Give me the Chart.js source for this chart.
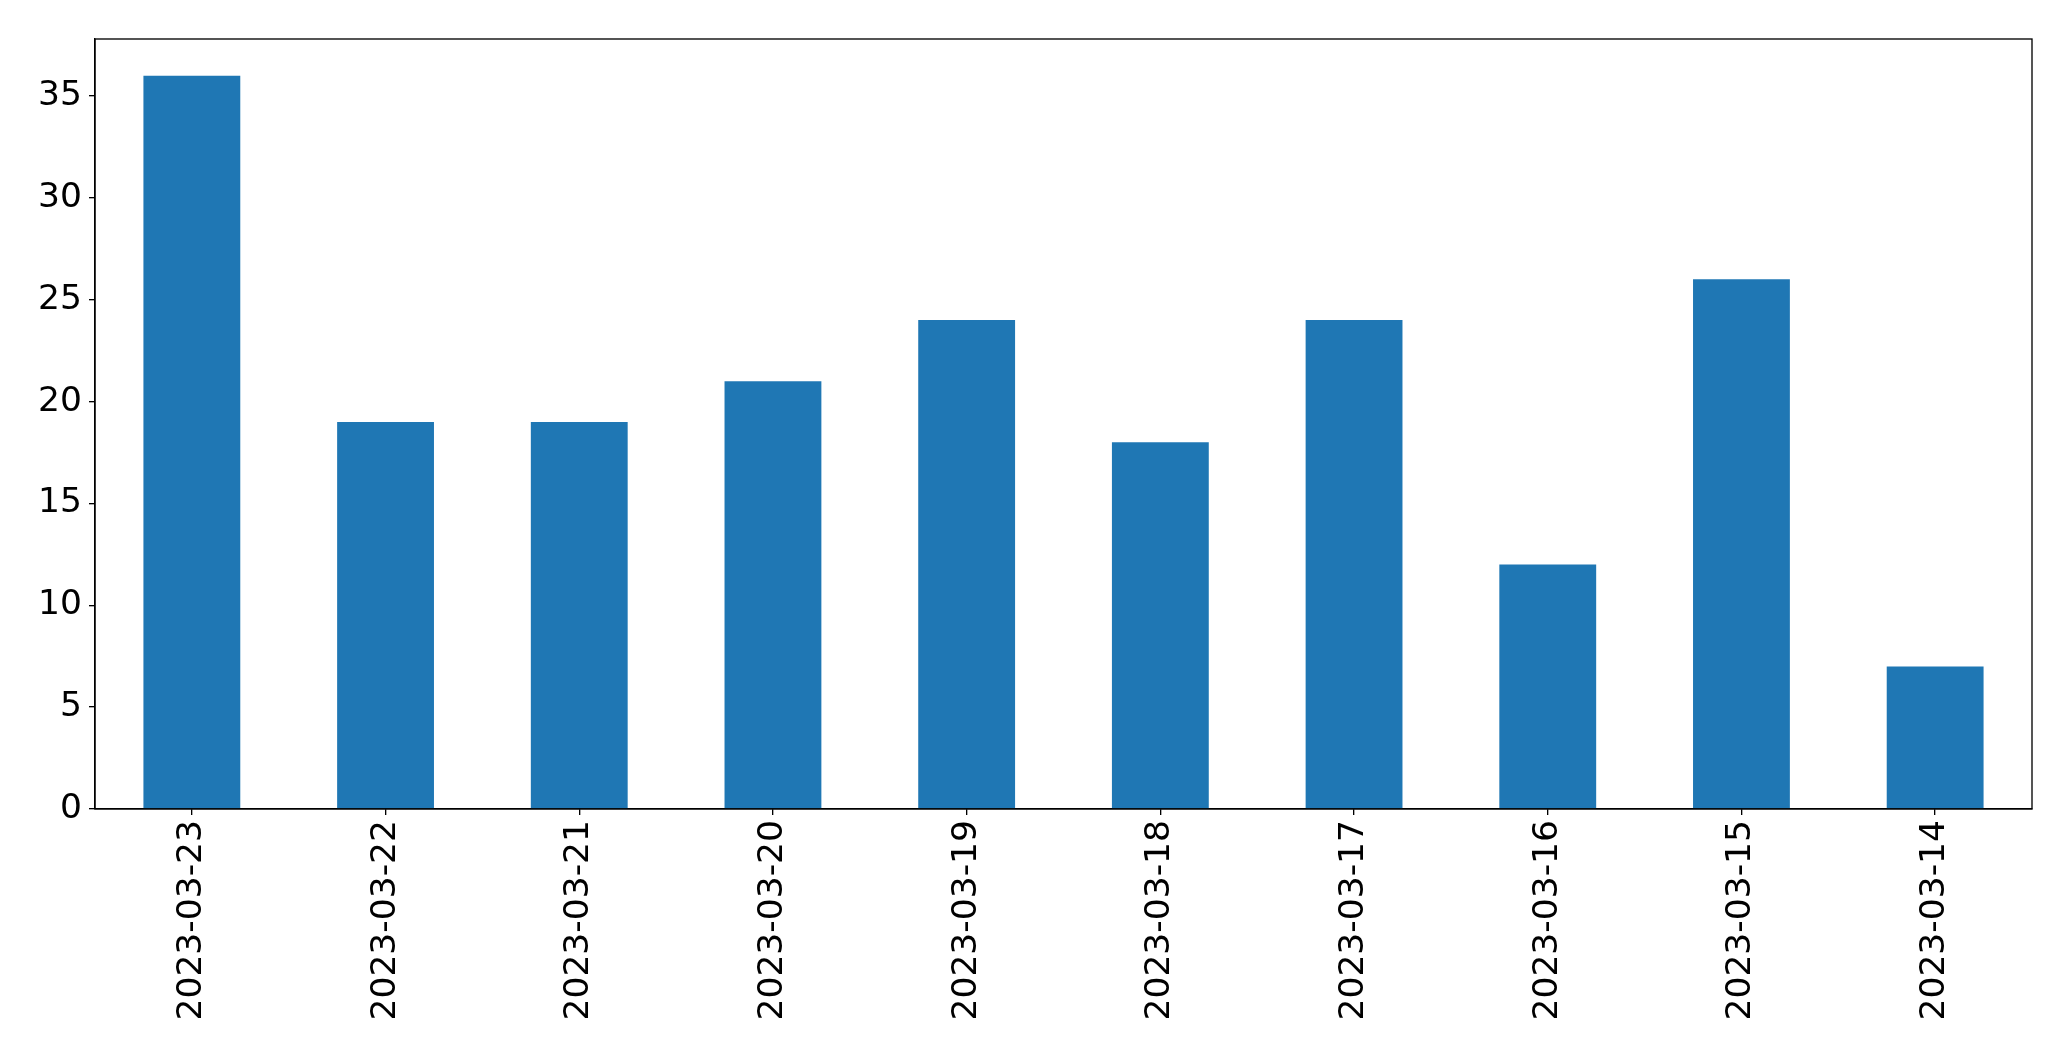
<!DOCTYPE html>
<html>
<head>
<meta charset="utf-8">
<script src="https://cdn.jsdelivr.net/npm/chart.js@4.4.0/dist/chart.umd.min.js"></script>
<style>
html,body{margin:0;padding:0;background:#fff;}
#wrap{width:2071px;height:1061px;}
</style>
</head>
<body>
<div id="wrap"><canvas id="c" width="2071" height="1061"></canvas></div>
<script>
const categories = ["2023-03-23","2023-03-22","2023-03-21","2023-03-20","2023-03-19","2023-03-18","2023-03-17","2023-03-16","2023-03-15","2023-03-14"];
const values = [36,19,19,21,24,18,24,12,26,7];
const yTicks = [0,5,10,15,20,25,30,35];

const boxPlugin = {
  id: 'box',
  afterDraw(chart) {
    const a = chart.chartArea, ctx = chart.ctx;
    ctx.save();
    ctx.strokeStyle = '#000';
    ctx.lineWidth = 1.33;
    ctx.strokeRect(a.left, a.top, a.right - a.left, a.bottom - a.top);
    ctx.restore();
  }
};

new Chart(document.getElementById('c'), {
  type: 'bar',
  data: {
    labels: categories,
    datasets: [{ data: values, backgroundColor: '#1f77b4', borderWidth: 0,
      categoryPercentage: 1.0, barPercentage: 0.5 }]
  },
  options: {
    responsive: false,
    devicePixelRatio: 1,
    animation: false,
    layout: { padding: { top: 39, right: 39, left: 0, bottom: 0 } },
    plugins: { legend: { display: false }, tooltip: { enabled: false } },
    scales: {
      x: {
        grid: { display: true, offset: false, drawOnChartArea: false, drawTicks: true, tickLength: 6, color: '#000', lineWidth: 1.33 },
        border: { display: true, color: '#000', width: 1.33 },
        ticks: { color: '#000', font: { family: 'DejaVu Sans', size: 34.5 }, maxRotation: 90, minRotation: 90, padding: 5, autoSkip: false },
        afterFit(s) { s.height = 252; }
      },
      y: {
        min: 0, max: 37.8,
        grid: { display: true, drawOnChartArea: false, drawTicks: true, tickLength: 6, color: '#000', lineWidth: 1.33 },
        border: { display: true, color: '#000', width: 1.33 },
        ticks: { color: '#000', font: { family: 'DejaVu Sans', size: 34.5 }, padding: 7, stepSize: 5 },
        afterBuildTicks(s) { s.ticks = yTicks.map(v => ({ value: v })); },
        afterFit(s) { s.width = 95; }
      }
    }
  },
  plugins: [boxPlugin]
});
</script>
</body>
</html>
